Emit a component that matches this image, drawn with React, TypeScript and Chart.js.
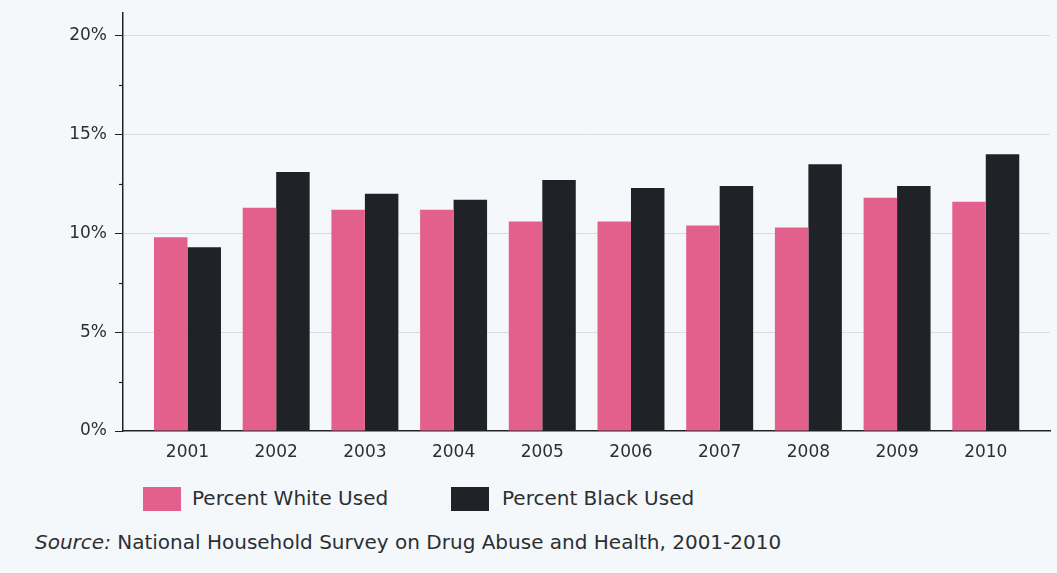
import React, { useEffect, useRef } from 'react';
import { Chart, registerables } from 'chart.js';

Chart.register(...registerables);

const years = ['2001', '2002', '2003', '2004', '2005', '2006', '2007', '2008', '2009', '2010'];
const whiteUsed = [9.8, 11.3, 11.2, 11.2, 10.6, 10.6, 10.4, 10.3, 11.8, 11.6];
const blackUsed = [9.3, 13.1, 12.0, 11.7, 12.7, 12.3, 12.4, 13.5, 12.4, 14.0];
const yTicks = [0, 5, 10, 15, 20];
const yMinorTicks = [2.5, 7.5, 12.5, 17.5];
const seriesLabels = ['Percent White Used', 'Percent Black Used'];
const sourceLabel = 'Source:';
const sourceText = 'National Household Survey on Drug Abuse and Health, 2001-2010';

const PINK = '#e3608c';
const BLACK = '#1f2327';
const TEXT = '#2b2f34';
const BG = '#f5f8fa';

const minorTickPlugin = {
  id: 'minorTicks',
  afterDraw(chart: any) {
    const y = chart.scales.y;
    const ctx = chart.ctx;
    ctx.save();
    ctx.strokeStyle = '#222';
    ctx.lineWidth = 1.2;
    for (const v of yMinorTicks) {
      const py = Math.round(y.getPixelForValue(v)) + 0.5;
      ctx.beginPath();
      ctx.moveTo(chart.chartArea.left - 4, py);
      ctx.lineTo(chart.chartArea.left, py);
      ctx.stroke();
    }
    ctx.restore();
  },
};

export default function App() {
  const ref = useRef<HTMLCanvasElement | null>(null);

  useEffect(() => {
    if (!ref.current) return;
    const chart = new Chart(ref.current, {
      type: 'bar',
      data: {
        datasets: [
          {
            label: seriesLabels[0],
            data: whiteUsed.map((v, i) => ({ x: i, y: v })),
            backgroundColor: PINK,
            borderWidth: 0,
            categoryPercentage: 0.755,
            barPercentage: 1.0,
          },
          {
            label: seriesLabels[1],
            data: blackUsed.map((v, i) => ({ x: i, y: v })),
            backgroundColor: BLACK,
            borderWidth: 0,
            categoryPercentage: 0.755,
            barPercentage: 1.0,
          },
        ] as any,
      },
      options: {
        animation: false,
        responsive: false,
        maintainAspectRatio: false,
        layout: { padding: { top: 13, right: 7, left: 0, bottom: 0 } },
        plugins: {
          legend: { display: false },
          tooltip: { enabled: false },
        },
        scales: {
          x: {
            type: 'linear',
            offset: false,
            min: -0.727,
            max: 9.724,
            afterBuildTicks: (scale: any) => {
              scale.ticks = years.map((_, i) => ({ value: i }));
            },
            afterFit: (scale: any) => {
              scale.height = 39;
              scale.paddingLeft = 0;
              scale.paddingRight = 0;
            },
            grid: { display: false, drawTicks: false },
            border: { display: true, color: '#222', width: 1.5 },
            ticks: {
              autoSkip: false,
              maxRotation: 0,
              includeBounds: false,
              padding: 11,
              color: TEXT,
              font: { family: "'DejaVu Sans', sans-serif", size: 17 },
              callback: (v: any) => years[Math.round(Number(v))] ?? '',
            },
          },
          y: {
            type: 'linear',
            min: 0,
            max: 21.15,
            afterBuildTicks: (scale: any) => {
              scale.ticks = yTicks.map((v) => ({ value: v }));
            },
            afterFit: (scale: any) => {
              scale.width = 123;
              scale.paddingTop = 0;
              scale.paddingBottom = 0;
            },
            grid: {
              color: (c: any) => (c.tick && c.tick.value === 0 ? 'rgba(0,0,0,0)' : '#d9dde1'),
              tickColor: '#222',
              tickLength: 8,
              lineWidth: 1,
            },
            border: { display: true, color: '#222', width: 1.5 },
            ticks: {
              includeBounds: false,
              padding: 8,
              color: TEXT,
              font: { family: "'DejaVu Sans', sans-serif", size: 17 },
              callback: (v: any) => `${v}%`,
            },
          },
        },
      },
      plugins: [minorTickPlugin],
    });
    return () => chart.destroy();
  }, []);

  const textStyle: React.CSSProperties = {
    position: 'absolute',
    fontFamily: "'DejaVu Sans', sans-serif",
    fontSize: 20,
    lineHeight: '24px',
    color: TEXT,
    whiteSpace: 'nowrap',
  };

  return (
    <div
      style={{
        position: 'fixed',
        left: 0,
        top: 0,
        width: 1057,
        height: 573,
        background: BG,
        overflow: 'hidden',
      }}
    >
      <canvas ref={ref} width={1057} height={470} style={{ position: 'absolute', left: 0, top: 0, width: 1057, height: 470 }} />
      <div style={{ position: 'absolute', left: 143, top: 487, width: 38, height: 24, background: PINK }} />
      <div style={{ ...textStyle, left: 192, top: 486 }}>{seriesLabels[0]}</div>
      <div style={{ position: 'absolute', left: 451, top: 487, width: 38, height: 24, background: BLACK }} />
      <div style={{ ...textStyle, left: 502, top: 486 }}>{seriesLabels[1]}</div>
      <div style={{ ...textStyle, left: 35, top: 530 }}>
        <i>{sourceLabel}</i> {sourceText}
      </div>
    </div>
  );
}
